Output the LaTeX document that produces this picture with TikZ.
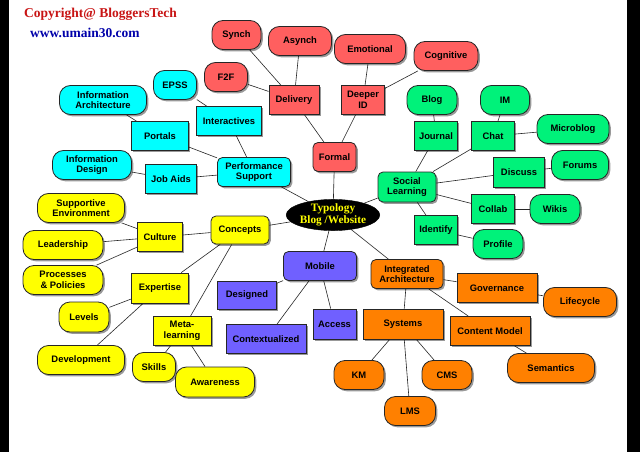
\documentclass[tikz,border=0pt]{standalone}
\usepackage{fontspec}
\setmainfont{Liberation Sans}
\newfontfamily\serifbold{Liberation Serif}
\usetikzlibrary{shapes.geometric,shadows}
\pgfdeclarelayer{bg}
\pgfsetlayers{bg,main}
\definecolor{cred}{RGB}{255,95,95}
\definecolor{ccyan}{RGB}{0,255,255}
\definecolor{cgreen}{RGB}{0,242,122}
\definecolor{cyel}{RGB}{255,255,0}
\definecolor{cpur}{RGB}{112,96,255}
\definecolor{corg}{RGB}{255,128,0}
\definecolor{cpyred}{RGB}{200,20,20}
\definecolor{wwwblue}{RGB}{0,0,170}
\tikzset{
  base/.style={draw=black!85, line width=0.8pt, inner sep=0pt, align=center,
    minimum height=29pt, font=\fontsize{9.4}{10.7}\selectfont\bfseries, text=black,
    drop shadow={shadow xshift=1.8pt, shadow yshift=-1.8pt, opacity=.4, fill=black}},
  pill/.style={base, rounded corners=11pt},
  topic/.style={base, rounded corners=5pt},
  sub/.style={base},
  wd/.style={minimum width=#1pt},
  link/.style={draw=black!85, line width=0.6pt},
}
\begin{document}
\begin{tikzpicture}[x=1pt,y=1pt]
\useasboundingbox (0,0) rectangle (640,-452);
\begin{pgfonlayer}{bg}
\fill[white] (0,0) rectangle (640,-452);
\fill[black] (0,0) rectangle (9,-452);
\fill[black] (627,0) rectangle (640,-452);
\end{pgfonlayer}
% header texts
\node[anchor=west, inner sep=0pt, text=cpyred, font=\serifbold\fontsize{13.5}{13.5}\selectfont\bfseries] (copy) at (24,-14) {Copyright@ BloggersTech};
\node[anchor=west, inner sep=0pt, text=wwwblue, font=\serifbold\fontsize{13.5}{13.5}\selectfont\bfseries] (www) at (30,-33) {www.umain30.com};
% centre
\node[ellipse, fill=black, draw=black, minimum width=86pt, minimum height=28pt, inner sep=0pt, align=center,
  text=cyel, font=\serifbold\fontsize{11.3}{11.7}\selectfont\bfseries] (typ) at (333,-215) {Typology\\Blog /Website};
% red
\node[pill, fill=cred, wd=49] (synch) at (236.5,-35) {Synch};
\node[pill, fill=cred, wd=63] (asynch) at (300,-41) {Asynch};
\node[pill, fill=cred, wd=43] (f2f) at (226,-77) {F2F};
\node[sub, fill=cred, wd=50] (delivery) at (294,-100) {Delivery};
\node[pill, fill=cred, wd=71] (emotional) at (370,-49) {Emotional};
\node[pill, fill=cred, wd=64] (cognitive) at (446,-56) {Cognitive};
\node[sub, fill=cred, wd=43] (deeper) at (363,-100) {Deeper\\ID};
\node[topic, fill=cred, wd=43] (formal) at (334.5,-157) {Formal};
% cyan
\node[pill, fill=ccyan, wd=43] (epss) at (175,-85) {EPSS};
\node[pill, fill=ccyan, wd=87] (infoarch) at (103,-100) {Information\\Architecture};
\node[sub, fill=ccyan, wd=65] (interactives) at (229,-121) {Interactives};
\node[sub, fill=ccyan, wd=57] (portals) at (160,-136) {Portals};
\node[pill, fill=ccyan, wd=79] (infodesign) at (92,-165) {Information\\Design};
\node[sub, fill=ccyan, wd=51] (jobaids) at (171,-179) {Job Aids};
\node[topic, fill=ccyan, wd=73] (perf) at (254,-172) {Performance\\Support};
% green
\node[pill, fill=cgreen, wd=50] (blog) at (432,-100) {Blog};
\node[pill, fill=cgreen, wd=49] (im) at (505,-100) {IM};
\node[sub, fill=cgreen, wd=43] (journal) at (436,-136) {Journal};
\node[sub, fill=cgreen, wd=43] (chat) at (493,-136) {Chat};
\node[pill, fill=cgreen, wd=72] (microblog) at (573,-129) {Microblog};
\node[sub, fill=cgreen, wd=51, minimum height=30pt] (discuss) at (519,-172) {Discuss};
\node[pill, fill=cgreen, wd=57] (forums) at (580,-165) {Forums};
\node[topic, fill=cgreen, wd=58, minimum height=30pt] (social) at (407,-187) {Social\\Learning};
\node[sub, fill=cgreen, wd=43] (collab) at (493,-209) {Collab};
\node[pill, fill=cgreen, wd=50] (wikis) at (555,-209) {Wikis};
\node[sub, fill=cgreen, wd=43] (identify) at (436,-230) {Identify};
\node[pill, fill=cgreen, wd=50] (profile) at (498,-244) {Profile};
% yellow
\node[pill, fill=cyel, wd=87] (supportive) at (81,-208) {Supportive\\Environment};
\node[pill, fill=cyel, wd=80] (leadership) at (63,-245) {Leadership};
\node[sub, fill=cyel, wd=45] (culture) at (160,-237) {Culture};
\node[topic, fill=cyel, wd=58, minimum height=28pt] (concepts) at (240,-230) {Concepts};
\node[pill, fill=cyel, wd=80] (processes) at (63,-280) {Processes\\\& Policies};
\node[sub, fill=cyel, wd=57, minimum height=30pt] (expertise) at (160,-288) {Expertise};
\node[pill, fill=cyel, wd=50, minimum height=30pt] (levels) at (84,-317) {Levels};
\node[sub, fill=cyel, wd=58] (meta) at (182,-331) {Meta-\\learning};
\node[pill, fill=cyel, wd=87] (development) at (81,-360) {Development};
\node[pill, fill=cyel, wd=43] (skills) at (154,-367) {Skills};
\node[pill, fill=cyel, wd=79, minimum height=30pt] (awareness) at (215,-382) {Awareness};
% purple
\node[topic, fill=cpur, wd=73] (mobile) at (320,-266) {Mobile};
\node[sub, fill=cpur, wd=59, minimum height=28pt] (designed) at (247,-295) {Designed};
\node[sub, fill=cpur, wd=80] (contextualized) at (266,-339) {Contextualized};
\node[sub, fill=cpur, wd=43, minimum height=30pt] (access) at (334.5,-324) {Access};
% orange
\node[topic, fill=corg, wd=72] (integrated) at (407,-274) {Integrated\\Architecture};
\node[sub, fill=corg, wd=80] (governance) at (497,-288) {Governance};
\node[pill, fill=corg, wd=73] (lifecycle) at (580,-302) {Lifecycle};
\node[sub, fill=corg, wd=80, minimum height=30pt] (systems) at (403,-324) {Systems};
\node[sub, fill=corg, wd=80] (contentmodel) at (490,-331) {Content Model};
\node[pill, fill=corg, wd=87] (semantics) at (551,-368) {Semantics};
\node[pill, fill=corg, wd=50] (km) at (359,-375) {KM};
\node[pill, fill=corg, wd=50] (cms) at (447,-375) {CMS};
\node[pill, fill=corg, wd=51] (lms) at (410,-411) {LMS};
% connectors
\begin{pgfonlayer}{bg}
\foreach \a/\b in {
  formal/typ, formal/delivery, formal/deeper,
  delivery/synch, delivery/asynch, delivery/f2f,
  deeper/emotional, deeper/cognitive,
  perf/typ, perf/interactives, perf/portals, perf/jobaids,
  interactives/epss, portals/infoarch, jobaids/infodesign,
  social/typ, social/journal, social/chat, social/discuss, social/collab, social/identify,
  journal/blog, chat/im, chat/microblog, discuss/forums, collab/wikis, identify/profile,
  concepts/typ, concepts/culture, concepts/expertise, concepts/meta,
  culture/supportive, culture/leadership, culture/processes,
  expertise/levels, expertise/development,
  meta/skills, meta/awareness,
  mobile/typ, mobile/designed, mobile/contextualized, mobile/access,
  integrated/typ, integrated/governance, integrated/systems, integrated/contentmodel,
  governance/lifecycle, systems/km, systems/lms, systems/cms, contentmodel/semantics}
  \draw[link] (\a) -- (\b);
\end{pgfonlayer}
\end{tikzpicture}
\end{document}
